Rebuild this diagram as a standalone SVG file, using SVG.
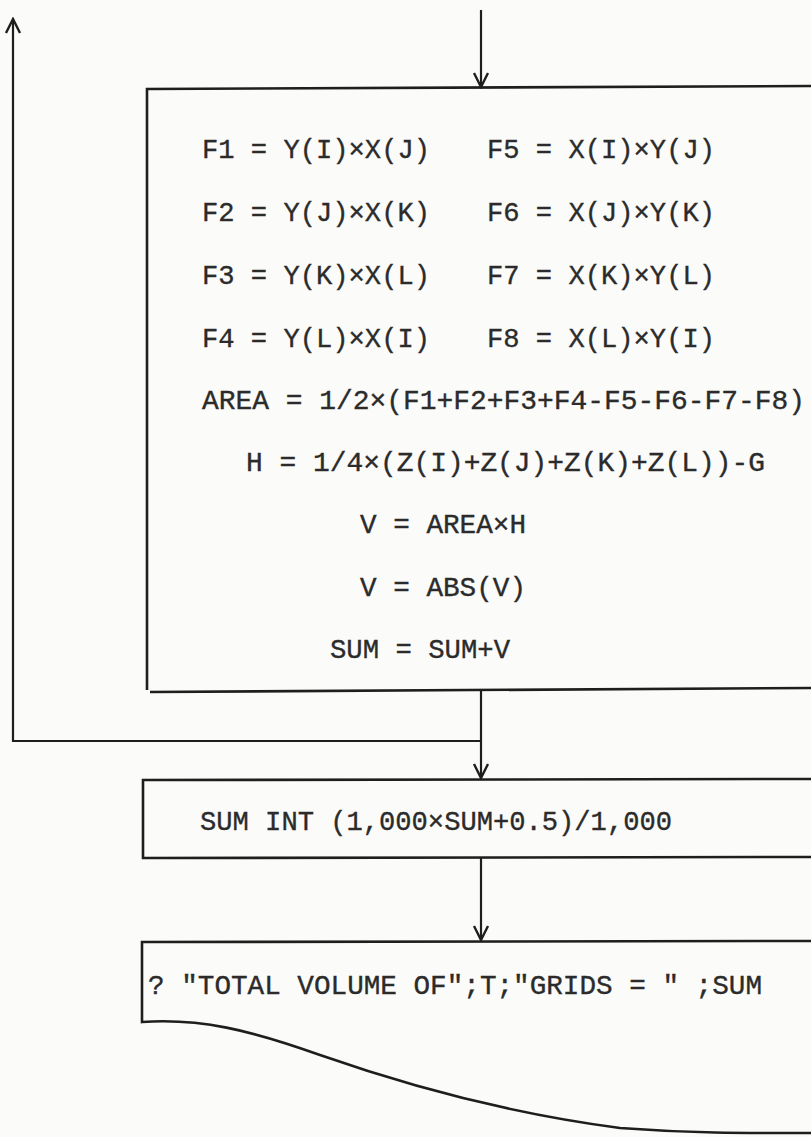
<svg xmlns="http://www.w3.org/2000/svg" width="811" height="1137" viewBox="0 0 811 1137">
<defs>
<style>
.t{font-family:"Liberation Mono","Courier New",monospace;font-size:27px;fill:#2b2b2b;stroke:#2b2b2b;stroke-width:0.35;}
.b{fill:none;stroke:#1e1e1e;stroke-width:2.6;}
.c{fill:none;stroke:#1e1e1e;stroke-width:2.2;}
</style>
<marker id="ah" viewBox="0 0 20 20" refX="18" refY="10" markerWidth="20" markerHeight="20" markerUnits="userSpaceOnUse" orient="auto">
<path d="M4,3 L18,10 L4,17" fill="none" stroke="#1e1e1e" stroke-width="2.4"/>
</marker>
</defs>
<rect width="811" height="1137" fill="#fbfbf9"/>
<g id="connectors">
<path class="c" d="M481,10 L481,87" marker-end="url(#ah)"/>
<path class="c" d="M481,690 L481,778" marker-end="url(#ah)"/>
<path class="c" d="M481,741 L13,741 L13,19" marker-end="url(#ah)"/>
<path class="c" d="M481,858 L481,940" marker-end="url(#ah)"/>
</g>
<g id="node-compute">
<path class="b" d="M147,690 L147,89 L811,86"/>
<path class="b" d="M150,692 L811,688"/>
<text class="t" x="202" y="158" textLength="228" lengthAdjust="spacingAndGlyphs">F1 = Y(I)×X(J)</text>
<text class="t" x="487" y="158" textLength="228" lengthAdjust="spacingAndGlyphs">F5 = X(I)×Y(J)</text>
<text class="t" x="202" y="221" textLength="228" lengthAdjust="spacingAndGlyphs">F2 = Y(J)×X(K)</text>
<text class="t" x="487" y="221" textLength="228" lengthAdjust="spacingAndGlyphs">F6 = X(J)×Y(K)</text>
<text class="t" x="202" y="284" textLength="228" lengthAdjust="spacingAndGlyphs">F3 = Y(K)×X(L)</text>
<text class="t" x="487" y="284" textLength="228" lengthAdjust="spacingAndGlyphs">F7 = X(K)×Y(L)</text>
<text class="t" x="202" y="347" textLength="228" lengthAdjust="spacingAndGlyphs">F4 = Y(L)×X(I)</text>
<text class="t" x="487" y="347" textLength="228" lengthAdjust="spacingAndGlyphs">F8 = X(L)×Y(I)</text>
<text class="t" x="202" y="409" textLength="603" lengthAdjust="spacingAndGlyphs">AREA = 1/2×(F1+F2+F3+F4-F5-F6-F7-F8)</text>
<text class="t" x="246" y="471" textLength="519" lengthAdjust="spacingAndGlyphs">H = 1/4×(Z(I)+Z(J)+Z(K)+Z(L))-G</text>
<text class="t" x="360" y="533" textLength="166" lengthAdjust="spacingAndGlyphs">V = AREA×H</text>
<text class="t" x="360" y="596" textLength="166" lengthAdjust="spacingAndGlyphs">V = ABS(V)</text>
<text class="t" x="330" y="658" textLength="180" lengthAdjust="spacingAndGlyphs">SUM = SUM+V</text>
</g>
<g id="node-round">
<path class="b" d="M811,779 L143,780 L143,858 L811,857"/>
<text class="t" x="200" y="830" textLength="472" lengthAdjust="spacingAndGlyphs">SUM INT (1,000×SUM+0.5)/1,000</text>
</g>
<g id="node-print">
<path class="b" d="M811,941 L142,942 L142,1022 C200,1018 250,1030 320,1055 C420,1090 520,1115 620,1128 C700,1134 760,1133 811,1133"/>
<text class="t" x="148" y="994" textLength="614" lengthAdjust="spacingAndGlyphs">? "TOTAL VOLUME OF";T;"GRIDS = " ;SUM</text>
</g>
</svg>
